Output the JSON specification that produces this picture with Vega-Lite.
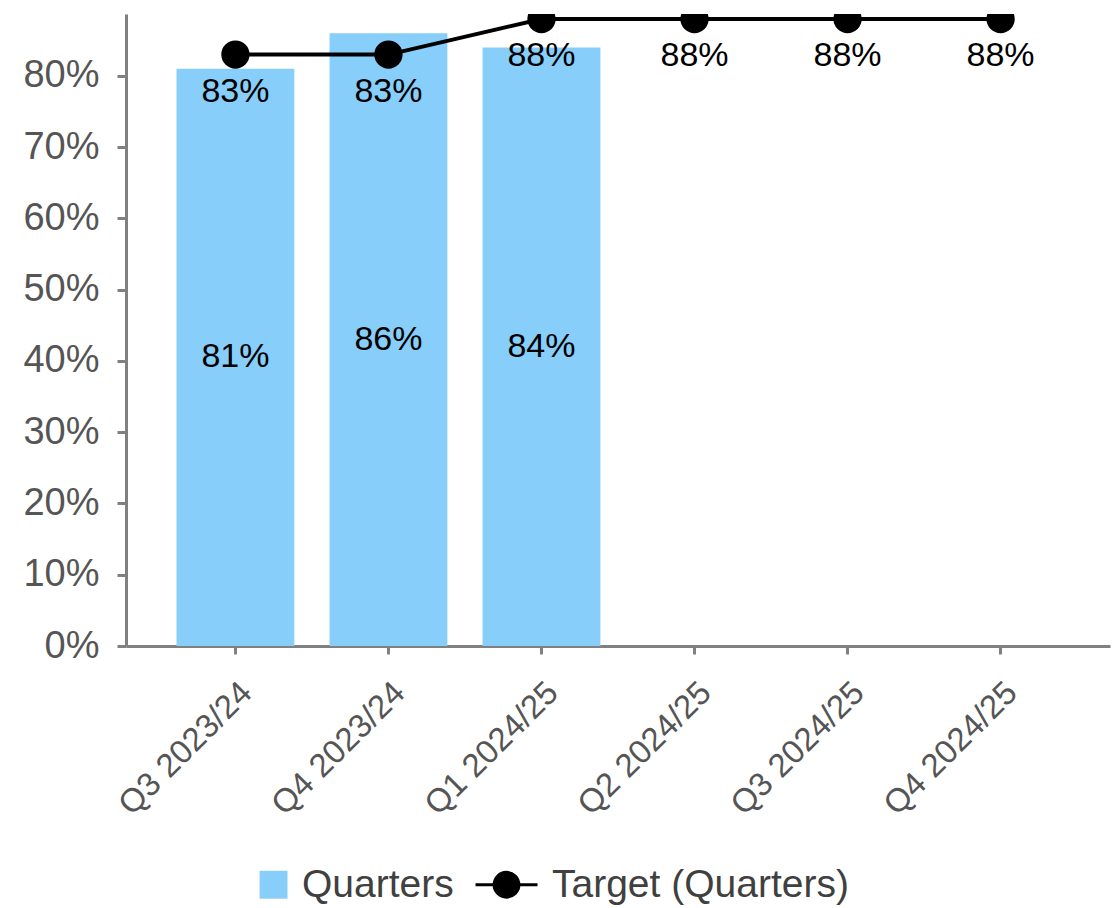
{
  "$schema": "https://vega.github.io/schema/vega-lite/v6.json",
  "width": 984,
  "height": 632,
  "autosize": {"type": "none"},
  "padding": {"left": 126, "top": 14, "right": 5, "bottom": 262},
  "background": "white",
  "config": {
    "view": {"stroke": null},
    "font": "Liberation Sans",
    "axis": {
      "domainColor": "#808080",
      "domainWidth": 3,
      "tickColor": "#808080",
      "tickWidth": 3,
      "grid": false,
      "title": null,
      "labelFont": "Liberation Sans",
      "labelColor": "#555555"
    }
  },
  "data": {
    "values": [
      {"quarter": "Q3 2023/24", "actual": 0.81, "target": 0.83},
      {"quarter": "Q4 2023/24", "actual": 0.86, "target": 0.83},
      {"quarter": "Q1 2024/25", "actual": 0.84, "target": 0.88},
      {"quarter": "Q2 2024/25", "actual": null, "target": 0.88},
      {"quarter": "Q3 2024/25", "actual": null, "target": 0.88},
      {"quarter": "Q4 2024/25", "actual": null, "target": 0.88}
    ]
  },
  "encoding": {
    "x": {
      "field": "quarter",
      "type": "nominal",
      "sort": null,
      "scale": {"paddingInner": 0.23, "paddingOuter": 0.33},
      "axis": {"labelAngle": -45, "labelFontSize": 33, "tickSize": 8, "labelPadding": 22}
    }
  },
  "resolve": {"scale": {"y": "independent"}},
  "layer": [
    {
      "mark": {"type": "bar"},
      "encoding": {
        "y": {
          "field": "actual",
          "type": "quantitative",
          "scale": {"domain": [0, 0.887], "nice": false, "zero": true},
          "axis": {"values": [0, 0.1, 0.2, 0.3, 0.4, 0.5, 0.6, 0.7, 0.8], "format": ".0%", "labelFontSize": 38, "tickSize": 9, "labelPadding": 18}
        },
        "color": {
          "datum": "Quarters",
          "scale": {"domain": ["Quarters", "Target (Quarters)"], "range": ["#87CEFA", "black"]},
          "legend": {
            "orient": "none",
            "legendX": 111,
            "legendY": 851,
            "direction": "horizontal",
            "title": null,
            "padding": 0,
            "symbolSize": 3844,
            "labelFontSize": 39,
            "labelFont": "Liberation Sans",
            "labelColor": "#404040",
            "labelLimit": 0,
            "labelOffset": 26,
            "columnPadding": 15,
            "encode": {
              "symbols": {
                "update": {
                  "shape": {"signal": "datum.value === 'Quarters' ? 'M0.1,-0.45H1V0.45H0.1Z' : 'M-1,0H1M0,-0.4A0.4,0.4 0 1 1 0,0.4A0.4,0.4 0 1 1 0,-0.4Z'"},
                  "fill": {"signal": "datum.value === 'Quarters' ? '#87CEFA' : 'black'"},
                  "stroke": {"signal": "datum.value === 'Quarters' ? '#87CEFA' : 'black'"},
                  "strokeWidth": {"signal": "datum.value === 'Quarters' ? 0 : 3"},
                  "opacity": {"value": 1},
                  "fillOpacity": {"value": 1},
                  "strokeOpacity": {"value": 1}
                }
              }
            }
          }
        }
      }
    },
    {
      "mark": {"type": "line", "strokeWidth": 4, "clip": true},
      "encoding": {
        "y": {"field": "target", "type": "quantitative", "scale": {"domain": [0, 0.887], "nice": false}, "axis": null},
        "color": {"datum": "Target (Quarters)"}
      }
    },
    {
      "mark": {"type": "point", "filled": true, "size": 800, "opacity": 1, "clip": true},
      "encoding": {
        "y": {"field": "target", "type": "quantitative", "scale": {"domain": [0, 0.887], "nice": false}, "axis": null},
        "color": {"value": "black"}
      }
    },
    {
      "mark": {"type": "text", "dy": 37, "baseline": "middle", "fontSize": 34, "color": "black"},
      "encoding": {
        "y": {"field": "target", "type": "quantitative", "scale": {"domain": [0, 0.887], "nice": false}, "axis": null},
        "text": {"field": "target", "type": "quantitative", "format": ".0%"}
      }
    },
    {
      "mark": {"type": "text", "baseline": "middle", "fontSize": 34, "color": "black"},
      "encoding": {
        "y": {"field": "actual", "type": "quantitative", "scale": {"domain": [0, 1.774], "nice": false}, "axis": null},
        "text": {"field": "actual", "type": "quantitative", "format": ".0%"}
      }
    }
  ]
}
